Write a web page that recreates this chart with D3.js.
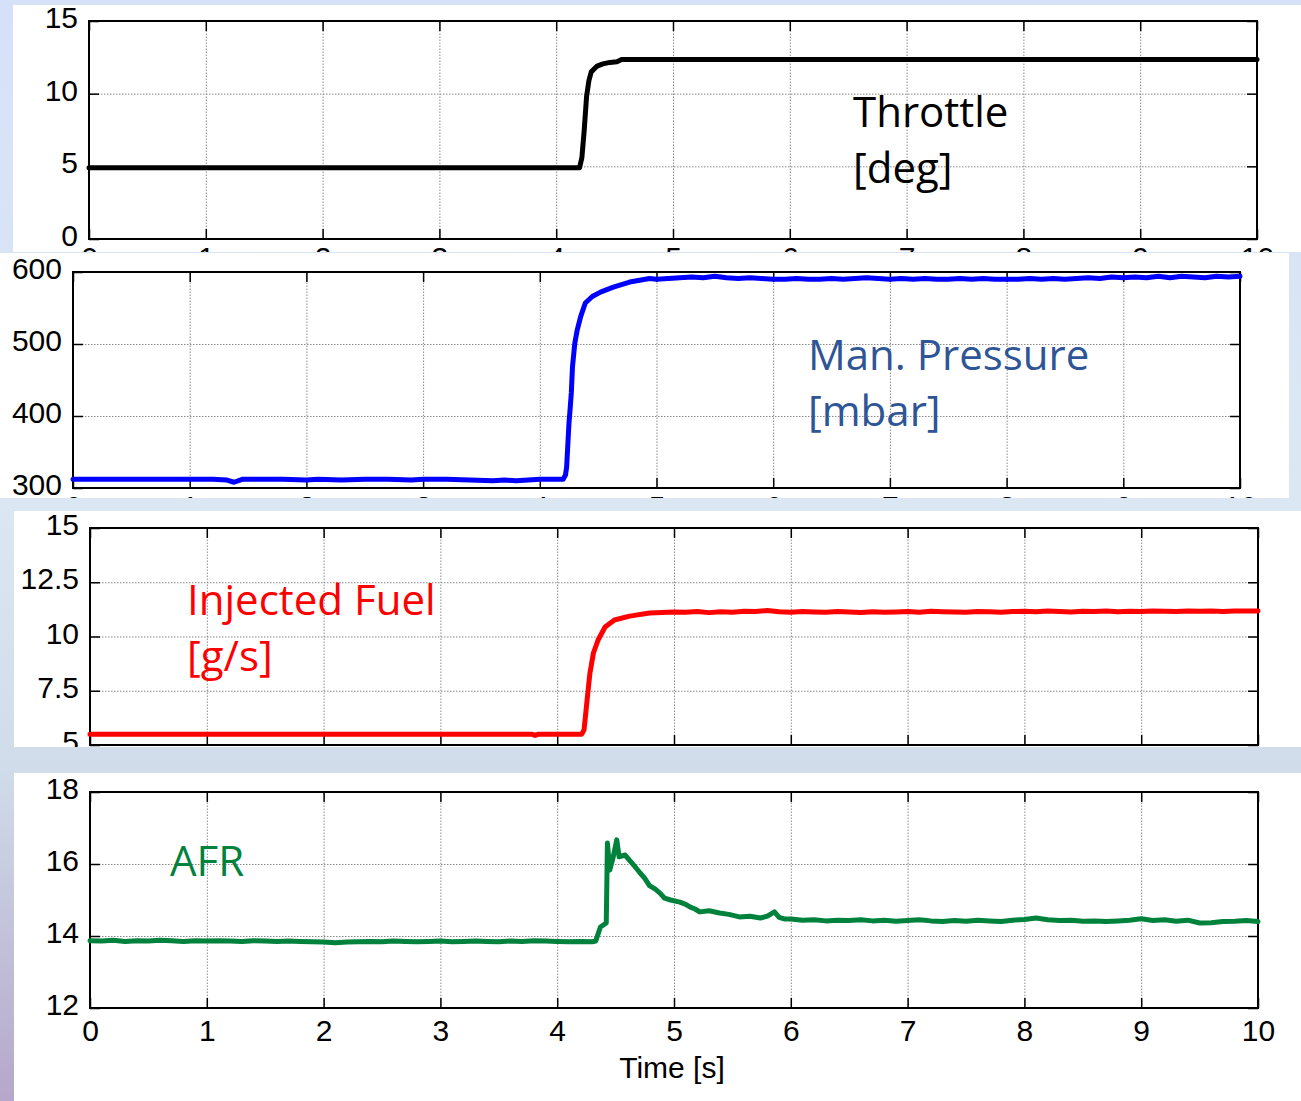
<!DOCTYPE html>
<html>
<head>
<meta charset="utf-8">
<script src="https://cdn.jsdelivr.net/npm/d3@7"></script>
<style>
  html, body { margin: 0; padding: 0; background: #fff; }
  svg { display: block; }
</style>
</head>
<body>
<svg id="chart"></svg>
<script>
'use strict';

// ---- data ----
var timeTicks = [0, 1, 2, 3, 4, 5, 6, 7, 8, 9, 10];

var throttleTicks = [0, 5, 10, 15];
var pressureTicks = [300, 400, 500, 600];
var fuelTicks = [5, 7.5, 10, 12.5, 15];
var afrTicks = [12, 14, 16, 18];

var throttleTime = [0, 4.2, 4.22, 4.24, 4.26, 4.28, 4.3, 4.35, 4.4, 4.46, 4.52, 4.56, 10];
var throttleDeg = [4.9, 4.9, 5.6, 7.5, 9.8, 10.9, 11.5, 11.9, 12.05, 12.15, 12.2, 12.35, 12.35];

var pressureTime = [0, 0.2, 0.4, 0.6, 0.8, 1.0, 1.2, 1.32, 1.38, 1.45, 1.6, 1.8, 2.0, 2.1, 2.3, 2.5, 2.7, 2.9, 3.0,
  3.2, 3.4, 3.6, 3.7, 3.8, 3.9, 4.0, 4.1, 4.2, 4.22, 4.23, 4.24, 4.25, 4.26, 4.27, 4.28, 4.3, 4.32, 4.35,
  4.39, 4.45, 4.52, 4.63, 4.77, 4.94, 5.0, 5.1, 5.2, 5.3, 5.4, 5.5, 5.6, 5.7, 5.8, 5.9, 6.0, 6.1, 6.2,
  6.3, 6.4, 6.5, 6.6, 6.7, 6.8, 6.9, 7.0, 7.1, 7.2, 7.3, 7.4, 7.5, 7.6, 7.7, 7.8, 7.9, 8.0, 8.1, 8.2,
  8.3, 8.4, 8.5, 8.6, 8.7, 8.8, 8.9, 9.0, 9.1, 9.2, 9.3, 9.4, 9.5, 9.6, 9.7, 9.8, 9.9, 10];
var pressureMbar = [312, 312, 312, 312, 312, 312, 312, 311, 308, 312, 312, 312, 311, 312, 311, 312, 312, 311, 312,
  312, 311, 310, 311, 310, 311, 312, 312, 312, 318, 329, 360, 390, 410, 432, 468, 501, 519, 538,
  557, 566, 572, 579, 586, 591, 590, 591, 592, 593, 592, 594, 592, 591, 592, 591, 590, 590, 591,
  590, 590, 591, 590, 591, 592, 591, 590, 591, 590, 591, 590, 590, 591, 590, 591, 590, 590, 590, 591,
  590, 591, 590, 591, 592, 591, 593, 592, 593, 592, 594, 592, 594, 593, 592, 594, 593, 594];

var fuelTime = [0, 0.5, 1.0, 1.5, 2.0, 2.5, 3.0, 3.5, 3.78, 3.81, 3.84, 4.0, 4.21, 4.23, 4.25, 4.27, 4.28,
  4.31, 4.35, 4.41, 4.49, 4.62, 4.79, 5.0, 5.1, 5.2, 5.3, 5.4, 5.5, 5.6, 5.7, 5.8, 5.9, 6.0, 6.1, 6.2,
  6.3, 6.4, 6.5, 6.6, 6.7, 6.8, 6.9, 7.0, 7.1, 7.2, 7.3, 7.4, 7.5, 7.6, 7.7, 7.8, 7.9, 8.0, 8.1, 8.2,
  8.3, 8.4, 8.5, 8.6, 8.7, 8.8, 8.9, 9.0, 9.1, 9.2, 9.3, 9.4, 9.5, 9.6, 9.7, 9.8, 9.9, 10];
var fuelGs = [5.5, 5.5, 5.5, 5.5, 5.5, 5.5, 5.5, 5.5, 5.5, 5.44, 5.5, 5.5, 5.5, 5.7, 6.75, 7.8, 8.3,
  9.24, 9.84, 10.44, 10.76, 10.94, 11.08, 11.13, 11.12, 11.15, 11.1, 11.14, 11.12, 11.16, 11.15, 11.2, 11.14, 11.12, 11.15, 11.13,
  11.12, 11.15, 11.13, 11.11, 11.14, 11.12, 11.13, 11.15, 11.12, 11.16, 11.14, 11.13, 11.12, 11.15, 11.14, 11.12, 11.15, 11.16, 11.14, 11.17,
  11.15, 11.13, 11.16, 11.15, 11.17, 11.14, 11.16, 11.15, 11.17, 11.16, 11.15, 11.18, 11.16, 11.17, 11.15, 11.18, 11.17, 11.18];

var afrTime = [0, 0.1, 0.2, 0.3, 0.4, 0.5, 0.6, 0.7, 0.8, 0.9, 1.0, 1.1, 1.2, 1.3, 1.4, 1.5, 1.6, 1.7, 1.8,
  1.9, 2.0, 2.1, 2.2, 2.3, 2.4, 2.5, 2.6, 2.7, 2.8, 2.9, 3.0, 3.1, 3.2, 3.3, 3.4, 3.5, 3.6, 3.7, 3.8,
  3.9, 4.0, 4.1, 4.2, 4.3, 4.33, 4.37, 4.42, 4.43, 4.45, 4.48, 4.51, 4.53, 4.58, 4.62, 4.66, 4.71, 4.75,
  4.79, 4.84, 4.88, 4.92, 4.97, 5.05, 5.1, 5.14, 5.18, 5.22, 5.3, 5.39, 5.47, 5.56, 5.65, 5.74, 5.8,
  5.86, 5.9, 5.95, 6.0, 6.1, 6.2, 6.3, 6.4, 6.5, 6.6, 6.7, 6.8, 6.9, 7.0, 7.1, 7.2, 7.3, 7.4, 7.5,
  7.6, 7.7, 7.8, 7.9, 8.0, 8.1, 8.2, 8.3, 8.4, 8.5, 8.6, 8.7, 8.8, 8.9, 9.0, 9.1, 9.2, 9.3, 9.4,
  9.5, 9.6, 9.7, 9.8, 9.9, 10];
var afrRatio = [13.87, 13.86, 13.88, 13.85, 13.87, 13.86, 13.88, 13.87, 13.85, 13.87, 13.86, 13.87, 13.86, 13.85, 13.87, 13.86, 13.85, 13.86, 13.85,
  13.84, 13.83, 13.81, 13.83, 13.84, 13.85, 13.84, 13.86, 13.85, 13.84, 13.85, 13.86, 13.84, 13.85, 13.86, 13.85, 13.84, 13.86, 13.85, 13.87,
  13.86, 13.85, 13.84, 13.85, 13.84, 13.86, 14.25, 14.36, 16.58, 15.83, 16.2, 16.67, 16.2, 16.25, 16.1, 15.95, 15.75, 15.6,
  15.4, 15.3, 15.19, 15.05, 15.0, 14.94, 14.88, 14.8, 14.75, 14.67, 14.7, 14.64, 14.6, 14.53, 14.55, 14.5, 14.55,
  14.67, 14.52, 14.47, 14.47, 14.44, 14.45, 14.42, 14.44, 14.43, 14.45, 14.42, 14.44, 14.41, 14.43, 14.45, 14.42, 14.4, 14.43, 14.41,
  14.44, 14.42, 14.4, 14.44, 14.46, 14.5, 14.45, 14.43, 14.44, 14.41, 14.42, 14.4, 14.42, 14.44, 14.48, 14.43, 14.45, 14.41, 14.44,
  14.36, 14.37, 14.4, 14.41, 14.43, 14.4];

// ---- layout ----
var canvasWidth = 1301;
var canvasHeight = 1101;
var tickFont = '"Liberation Sans", Arial, Helvetica, sans-serif';
var noteFont = '"Open Sans", "Noto Sans", sans-serif';

var panels = [
  {
    id: 'throttle', box: [13, 5, 1288, 247], plot: [89, 21, 1257, 239], xPad: 8,
    domain: [0, 15], ticks: throttleTicks, time: throttleTime, values: throttleDeg,
    color: '#000000', width: 5,
    note: { lines: ['Throttle', '[deg]'], x: 853, y: [127, 183], color: '#000000' }
  },
  {
    id: 'pressure', box: [0, 253, 1289, 245], plot: [73, 272, 1240, 488], xPad: 8,
    domain: [300, 600], ticks: pressureTicks, time: pressureTime, values: pressureMbar,
    color: '#0000ff', width: 5,
    note: { lines: ['Man. Pressure', '[mbar]'], x: 808, y: [370, 426], color: '#2e5596' }
  },
  {
    id: 'fuel', box: [14, 511, 1287, 236], plot: [90, 528, 1258, 745], xPad: 8,
    domain: [5, 15], ticks: fuelTicks, time: fuelTime, values: fuelGs,
    color: '#ff0000', width: 5,
    note: { lines: ['Injected Fuel', '[g/s]'], x: 187, y: [615, 671], color: '#ff0000' }
  },
  {
    id: 'afr', box: [14, 773, 1287, 328], plot: [90, 792, 1258, 1008], xPad: 12,
    domain: [12, 18], ticks: afrTicks, time: afrTime, values: afrRatio,
    color: '#00823c', width: 5,
    note: { lines: ['AFR'], x: 170, y: [876], color: '#00823c' },
    xTitle: 'Time [s]'
  }
];

var svg = d3.select('#chart')
  .attr('width', canvasWidth)
  .attr('height', canvasHeight);

// slide background
var defs = svg.append('defs');
var grad = defs.append('linearGradient')
  .attr('id', 'slideBg')
  .attr('x1', 0).attr('y1', 0).attr('x2', 0).attr('y2', 1);
[[0, '#d5e1f9'], [0.45, '#dbe8f3'], [0.7, '#d0dce9'], [1, '#b5a7cb']].forEach(function (s) {
  grad.append('stop').attr('offset', s[0]).attr('stop-color', s[1]);
});
svg.append('rect')
  .attr('width', canvasWidth)
  .attr('height', canvasHeight)
  .attr('fill', 'url(#slideBg)');

function styleAxis(g) {
  g.select('.domain').remove();
  g.selectAll('.tick line').attr('stroke', '#000').attr('stroke-width', 1.5);
  g.selectAll('.tick text')
    .attr('fill', '#000')
    .style('font-family', tickFont)
    .style('font-size', '30px');
}

function styleGrid(g) {
  g.select('.domain').remove();
  g.selectAll('.tick line')
    .attr('stroke', '#8a8a8a')
    .attr('stroke-width', 1)
    .attr('stroke-dasharray', '1.5,1.5');
  g.selectAll('.tick text').remove();
}

panels.forEach(function (p) {
  var left = p.plot[0], top = p.plot[1], right = p.plot[2], bottom = p.plot[3];
  var w = right - left, h = bottom - top;

  defs.append('clipPath').attr('id', 'clip-' + p.id)
    .append('rect')
    .attr('x', p.box[0]).attr('y', p.box[1])
    .attr('width', p.box[2]).attr('height', p.box[3]);

  var panel = svg.append('g').attr('clip-path', 'url(#clip-' + p.id + ')');
  panel.append('rect')
    .attr('x', p.box[0]).attr('y', p.box[1])
    .attr('width', p.box[2]).attr('height', p.box[3])
    .attr('fill', '#ffffff');

  var xScale = d3.scaleLinear().domain([0, 10]).range([left, right]);
  var yScale = d3.scaleLinear().domain(p.domain).range([bottom, top]);

  // grid
  panel.append('g')
    .attr('transform', 'translate(0,' + bottom + ')')
    .call(d3.axisBottom(xScale).tickValues(timeTicks.slice(1, -1)).tickSize(-h).tickFormat(''))
    .call(styleGrid);
  panel.append('g')
    .attr('transform', 'translate(' + left + ',0)')
    .call(d3.axisLeft(yScale).tickValues(p.ticks.slice(1, -1)).tickSize(-w).tickFormat(''))
    .call(styleGrid);

  // axes, ticks pointing inwards like matlab
  panel.append('g')
    .attr('transform', 'translate(0,' + bottom + ')')
    .call(d3.axisBottom(xScale).tickValues(timeTicks).tickSizeInner(-10).tickSizeOuter(0)
      .tickPadding(p.xPad).tickFormat(function (d) { return d; }))
    .call(styleAxis);
  panel.append('g')
    .attr('transform', 'translate(0,' + top + ')')
    .call(d3.axisTop(xScale).tickValues(timeTicks).tickSizeInner(-10).tickSizeOuter(0).tickFormat(''))
    .call(styleAxis);
  var yAxis = panel.append('g')
    .attr('transform', 'translate(' + left + ',0)')
    .call(d3.axisLeft(yScale).tickValues(p.ticks).tickSizeInner(-10).tickSizeOuter(0)
      .tickPadding(11).tickFormat(function (d) { return d; }))
    .call(styleAxis);
  yAxis.selectAll('.tick text').attr('dy', '0.22em');
  panel.append('g')
    .attr('transform', 'translate(' + right + ',0)')
    .call(d3.axisRight(yScale).tickValues(p.ticks).tickSizeInner(-10).tickSizeOuter(0).tickFormat(''))
    .call(styleAxis);

  panel.append('rect')
    .attr('x', left).attr('y', top)
    .attr('width', w).attr('height', h)
    .attr('fill', 'none')
    .attr('stroke', '#000')
    .attr('stroke-width', 2);

  // signal
  var line = d3.line()
    .x(function (d, i) { return xScale(p.time[i]); })
    .y(function (d) { return yScale(d); });
  panel.append('path')
    .datum(p.values)
    .attr('d', line)
    .attr('fill', 'none')
    .attr('stroke', p.color)
    .attr('stroke-width', p.width)
    .attr('stroke-linejoin', 'round')
    .attr('stroke-linecap', 'round');

  // annotation
  p.note.lines.forEach(function (txt, i) {
    panel.append('text')
      .attr('x', p.note.x)
      .attr('y', p.note.y[i])
      .attr('fill', p.note.color)
      .style('font-family', noteFont)
      .style('font-size', '42px')
      .text(txt);
  });

  if (p.xTitle) {
    panel.append('text')
      .attr('x', 672)
      .attr('y', 1078)
      .attr('text-anchor', 'middle')
      .attr('fill', '#000')
      .style('font-family', tickFont)
      .style('font-size', '30px')
      .text(p.xTitle);
  }
});
</script>
</body>
</html>
